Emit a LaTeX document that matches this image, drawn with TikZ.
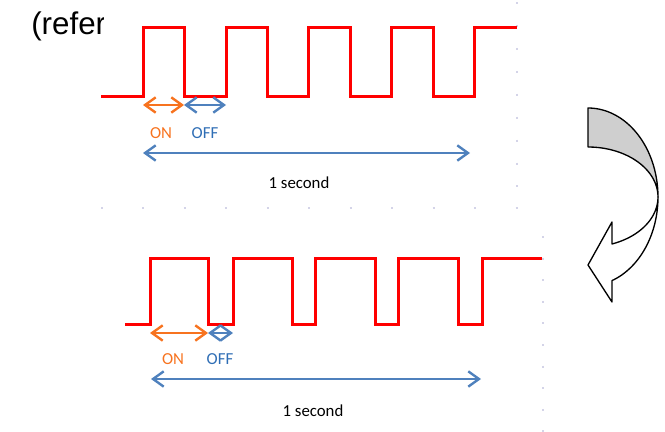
\documentclass[tikz,border=0pt]{standalone}
\usepackage{fontspec}
\setmainfont{Carlito}
\newfontfamily\reffont{Liberation Sans}
\usetikzlibrary{arrows.meta}
\definecolor{wave}{RGB}{255,0,0}
\definecolor{onc}{HTML}{F7731F}
\definecolor{offc}{HTML}{4F81BD}
\definecolor{offt}{HTML}{2F6EB5}
\definecolor{faint}{RGB}{212,212,232}
\definecolor{arrowgray}{RGB}{207,207,207}
\tikzset{
  wavel/.style={draw=wave, line width=2.25pt, line join=miter},
  dimarrow/.style={line width=1.8pt, {Straight Barb[length=8pt,width=11.5pt]}-{Straight Barb[length=8pt,width=11.5pt]}},
  onarrow/.style={dimarrow, draw=onc},
  offarrow/.style={dimarrow, draw=offc},
  lbl/.style={anchor=base, inner sep=0pt, font=\fontsize{12.6}{15}\selectfont},
  bordl/.style={draw=faint, line width=0.9pt},
  curvearrow/.style={draw=black, line width=1pt, line join=round}
}
\begin{document}
\begin{tikzpicture}[x=0.75pt, y=-0.75pt]
\useasboundingbox (0,0) rectangle (665,432);
% title fragment, clipped by the overlaid picture
\begin{scope}
\clip (0,0) rectangle (103,60);
\node[anchor=base west, inner sep=0pt, font=\fontsize{23.5}{28}\selectfont\reffont] (ref) at (31,35) {(refer};
\end{scope}
% faint picture borders
\draw[bordl, dash pattern=on 1.5pt off 15.7pt] (517,2) -- (517,209);
\draw[bordl, dash pattern=on 1.5pt off 29.6pt] (101,208) -- (518,208);
\draw[bordl, dash pattern=on 1.5pt off 14.7pt] (543,236) -- (543,432);
% top waveform
\draw[wavel] (101,96) -- (143,96) -- (143,27) -- (184,27) -- (184,96) -- (226,96) -- (226,27) -- (267,27) -- (267,96) -- (308,96) -- (308,27) -- (350,27) -- (350,96) -- (391,96) -- (391,27) -- (433,27) -- (433,96) -- (474,96) -- (474,27) -- (517,27);
% top dimensions
\coordinate (t1) at (143,105);
\coordinate (t2) at (184,105);
\coordinate (t3) at (226,105);
\coordinate (ts1) at (143,153);
\coordinate (ts2) at (470,153);
\draw[onarrow] (t1) -- (t2);
\draw[offarrow] (t2) -- (t3);
\draw[offarrow] (ts1) -- (ts2);
\node[lbl, text=onc] (ton) at (161,138) {ON};
\node[lbl, text=offt] (toff) at (205,138) {OFF};
\node[lbl] (tsec) at (299,188) {1 second};
% bottom waveform
\draw[wavel] (125,324) -- (150,324) -- (150,258) -- (208,258) -- (208,324) -- (233,324) -- (233,258) -- (292,258) -- (292,324) -- (315,324) -- (315,258) -- (375,258) -- (375,324) -- (398,324) -- (398,258) -- (458,258) -- (458,324) -- (482,324) -- (482,258) -- (542,258);
% bottom dimensions
\coordinate (b1) at (150,333);
\coordinate (b2) at (208,333);
\coordinate (b3) at (233,333);
\coordinate (bs1) at (151,379);
\coordinate (bs2) at (481,379);
\draw[onarrow] (b1) -- (b2);
\draw[offarrow] (b2) -- (b3);
\draw[offarrow] (bs1) -- (bs2);
\node[lbl, text=onc] (bon) at (173,364) {ON};
\node[lbl, text=offt] (boff) at (220,364) {OFF};
\node[lbl] (bsec) at (313,416) {1 second};
% curved arrow: back face
\filldraw[curvearrow, fill=arrowgray] plot[domain=-90:0, samples=40] ({588+70*cos(\x)},{197+89*sin(\x)}) -- plot[domain=0:-90, samples=40] ({588+70*cos(\x)},{197+50*sin(\x)}) -- cycle;
% curved arrow: front face with head
\filldraw[curvearrow, fill=white] plot[domain=0:69.9, samples=40] ({588+70*cos(\x)},{197+89*sin(\x)}) -- (612,302) -- (588,265) -- (612,222) -- plot[domain=69.9:0, samples=40] ({588+70*cos(\x)},{197+50*sin(\x)}) -- cycle;
\end{tikzpicture}
\end{document}
